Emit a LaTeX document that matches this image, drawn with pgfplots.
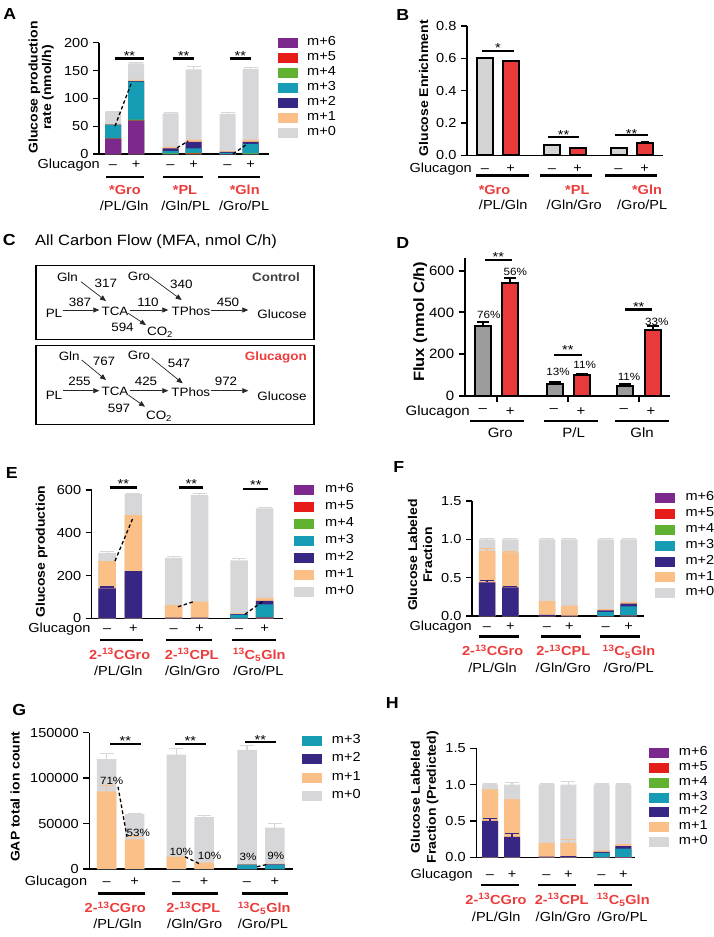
\documentclass[border=0pt]{standalone}
\usepackage{fontspec}
\setmainfont{Liberation Sans}[FakeStretch=1.11]
\usepackage{pgfplots}
\pgfplotsset{compat=1.18}
\usetikzlibrary{arrows.meta}

% isotopologue colours
\definecolor{mz}{RGB}{215,215,217}
\definecolor{mo}{RGB}{250,192,135}
\definecolor{mtw}{RGB}{55,38,132}
\definecolor{mth}{RGB}{22,156,180}
\definecolor{mfo}{RGB}{98,178,50}
\definecolor{mfi}{RGB}{230,28,24}
\definecolor{msi}{RGB}{124,40,140}
\definecolor{lred}{RGB}{236,60,60}
\definecolor{bred}{RGB}{232,58,58}
\definecolor{bgray}{RGB}{212,212,212}
\definecolor{dgray}{RGB}{155,155,158}

\newcommand\ftxt{\fontsize{13.1}{15}\selectfont}
\newcommand\fyl{\bfseries\fontsize{12.6}{13.5}\selectfont}
\newcommand\fdg{\fontsize{12.1}{14}\selectfont}
\newcommand\fpc{\fontsize{10.5}{12}\selectfont}

\pgfplotsset{
  gp/.style={scale only axis, anchor=south west, clip=false,
    axis lines*=left,
    axis line style={line width=1.3pt,-},
    every outer x axis line/.append style={-},
    every outer y axis line/.append style={-},
    tick align=outside, major tick length=6pt,
    xtick=\empty, ytick pos=left,
    tick style={line width=1.3pt, black},
    tick label style={font=\ftxt, inner sep=0pt},
    yticklabel style={xshift=-4.4pt},
    /pgf/number format/assume math mode=true,
    ymin=0},
  fx1/.style={yticklabel style={/pgf/number format/.cd, fixed, fixed zerofill, precision=1}},
  sb/.style={ybar, bar shift=0pt, draw=none, fill=#1},
  ob/.style={ybar, bar shift=0pt, draw=black, line width=2pt, fill=#1},
  eb/.style n args={3}{only marks, mark=text, text mark={}, forget plot,
    error bars/.cd, y dir=plus, y explicit,
    error bar style={line width=#3, #1},
    error mark options={rotate=90, mark size=#2, line width=#3, #1}},
  dsh/.style={black, line width=1.3pt, dash pattern=on 3.5pt off 2.5pt, forget plot},
}

\tikzset{
  t/.style={font=\ftxt, inner sep=0pt, text height=0.72em, text depth=0.21em},
  rb/.style={font=\bfseries\ftxt, text=lred, inner sep=0pt, text height=0.72em, text depth=0.21em},
  yl/.style={font=\fyl, rotate=90, align=center, inner sep=0pt},
  let/.style={font=\bfseries\fontsize{16}{16}\selectfont, inner sep=0pt},
  ul/.style={line width=2.6pt},
  sg/.style={font=\ftxt, inner sep=0pt},
  pc/.style={font=\fpc, inner sep=0pt},
  dgn/.style={font=\fdg, inner sep=0pt},
  ar/.style={-{Triangle[length=6pt,width=5pt]}, line width=0.7pt, draw=black!85},
}

% y, then the six bar centres
\newcommand\pmrow[7]{\node[t] at (#2,#1) {--}; \node[t] at (#3,#1) {+};
  \node[t] at (#4,#1) {--}; \node[t] at (#5,#1) {+};
  \node[t] at (#6,#1) {--}; \node[t] at (#7,#1) {+};}
\newcommand\uls[7]{\draw[ul] (#2,#1)--(#3,#1); \draw[ul] (#4,#1)--(#5,#1); \draw[ul] (#6,#1)--(#7,#1);}
% square left, first row y, row step, text x, list
\newcommand\legbox[5]{\foreach \c/\l [count=\i from 0] in {#5} {
  \fill[\c] (#1,{#2+#3*\i-5}) rectangle ++(20,10);
  \node[t,anchor=west] at (#4,{#2+#3*\i}) {\l};}}

\begin{document}
\begin{tikzpicture}
\path[use as bounding box] (0,0) rectangle (714pt,-937pt);

%% A
\begin{axis}[gp, at={(99pt,-154pt)}, width=170pt, height=111.3pt,
  xmin=99, xmax=269, ymax=200, ytick={0,50,100,150,200}, bar width=16]
\addplot[sb=mz]  coordinates {(113,76) (136,163) (170.5,73) (193.5,152) (227.5,72) (250.5,153)};
\addplot[sb=mo]  coordinates {(113,54) (136,133) (170.5,13) (193.5,26) (227.5,5) (250.5,26)};
\addplot[sb=mtw] coordinates {(113,53) (136,131) (170.5,10) (193.5,22) (227.5,4) (250.5,22)};
\addplot[sb=mth] coordinates {(113,52.5) (136,130) (170.5,5) (193.5,10) (227.5,2) (250.5,18)};
\addplot[sb=mfo] coordinates {(113,28.5) (136,62) (170.5,1) (193.5,2) (227.5,0) (250.5,1)};
\addplot[sb=mfi] coordinates {(113,27.5) (136,60) (170.5,0) (193.5,1) (227.5,0) (250.5,0)};
\addplot[sb=msi] coordinates {(113,27.5) (136,60) (170.5,0) (193.5,0) (227.5,0) (250.5,0)};
\addplot[eb={mz}{7pt}{1.2pt}] coordinates {(113,76) +- (0,1) (136,163) +- (0,1) (170.5,73) +- (0,2)
  (193.5,152) +- (0,5) (227.5,72) +- (0,2) (250.5,153) +- (0,3)};
\addplot[dsh] coordinates {(115,50) (131,126)};
\addplot[dsh] coordinates {(177,11) (188,23)};
\addplot[dsh] coordinates {(233,0) (248,19)};
\end{axis}

%% B
\begin{axis}[gp, fx1, at={(467pt,-155.3pt)}, width=196pt, height=129.3pt,
  xmin=467, xmax=663, ymax=0.8, ytick={0,0.2,0.4,0.6,0.8}, bar width=16]
\addplot[ob=bgray] coordinates {(485,0.600) (552,0.062) (618.5,0.043)};
\addplot[ob=bred]  coordinates {(510.5,0.585) (577.5,0.047) (644.5,0.078)};
\addplot[eb={black}{4pt}{1.2pt}] coordinates {(485,0.600) +- (0,0.004) (510.5,0.585) +- (0,0.003)
  (552,0.062) +- (0,0.004) (577.5,0.047) +- (0,0.003) (618.5,0.043) +- (0,0.003) (644.5,0.078) +- (0,0.004)};
\end{axis}

%% D
\begin{axis}[gp, at={(464.7pt,-395.7pt)}, width=205.6pt, height=137.5pt,
  xmin=464.7, xmax=670.3, ymax=660, ytick={0,200,400,600},
  xtick={496.5,568.1,639}, xticklabels={},
  axis line style={line width=2pt}, tick style={line width=2pt},
  tick label style={font=\fontsize{13.5}{15}\selectfont}, bar width=16]
\addplot[ob=dgray] coordinates {(482.8,336) (554.5,55) (625.3,45)};
\addplot[ob=bred]  coordinates {(510.2,542) (581.7,99) (652.7,314)};
\addplot[eb={black}{6pt}{2pt}] coordinates {(482.8,336) +- (0,19) (510.2,542) +- (0,21)
  (554.5,55) +- (0,12) (581.7,99) +- (0,6) (625.3,45) +- (0,13) (652.7,314) +- (0,22)};
\end{axis}

%% E
\begin{axis}[gp, at={(91.7pt,-618.3pt)}, width=191.6pt, height=128.3pt,
  xmin=91.7, xmax=283.3, ymax=600, ytick={0,200,400,600}, bar width=17.5]
\addplot[sb=mz]  coordinates {(107.2,306) (133.3,581) (173.7,283) (199.7,576) (239.2,271) (264.7,514)};
\addplot[sb=mo]  coordinates {(107.2,268) (133.3,483) (173.7,62) (199.7,78) (239.2,24) (264.7,96)};
\addplot[sb=mtw] coordinates {(107.2,140) (133.3,221) (173.7,3) (199.7,3) (239.2,19) (264.7,82)};
\addplot[sb=mth] coordinates {(107.2,0) (133.3,0) (173.7,0) (199.7,0) (239.2,17) (264.7,65)};
\addplot[sb=mfo] coordinates {(107.2,0) (133.3,0) (173.7,0) (199.7,0) (239.2,0) (264.7,3)};
\addplot[sb=mfi] coordinates {(107.2,0) (133.3,0) (173.7,0) (199.7,0) (239.2,0) (264.7,3)};
\addplot[sb=msi] coordinates {(107.2,0) (133.3,0) (173.7,0) (199.7,0) (239.2,0) (264.7,3)};
\addplot[eb={mz}{7pt}{1.2pt}] coordinates {(107.2,306) +- (0,6) (133.3,581) +- (0,4) (173.7,283) +- (0,5)
  (199.7,576) +- (0,8) (239.2,271) +- (0,9) (264.7,514) +- (0,5)};
\addplot[eb={mtw}{7pt}{1.2pt}] coordinates {(107.2,140) +- (0,6)};
\addplot[dsh] coordinates {(115,268) (133,470)};
\addplot[dsh] coordinates {(178,54) (195,80)};
\addplot[dsh] coordinates {(245,19) (263,80)};
\end{axis}

%% F
\begin{axis}[gp, fx1, at={(472pt,-616pt)}, width=172.3pt, height=115pt,
  xmin=472, xmax=644.3, ymax=1.5, ytick={0,0.5,1,1.5}, bar width=16.5]
\addplot[sb=mz]  coordinates {(487,1) (510.3,1) (547,1) (569.3,1) (605.7,1) (628.7,1)};
\addplot[sb=mo]  coordinates {(487,0.85) (510.3,0.83) (547,0.195) (569.3,0.135) (605.7,0.09) (628.7,0.185)};
\addplot[sb=mtw] coordinates {(487,0.44) (510.3,0.375) (547,0.015) (569.3,0.005) (605.7,0.075) (628.7,0.16)};
\addplot[sb=mth] coordinates {(487,0) (510.3,0) (547,0) (569.3,0) (605.7,0.055) (628.7,0.125)};
\addplot[sb=mfo] coordinates {(487,0) (510.3,0) (547,0) (569.3,0) (605.7,0) (628.7,0.006)};
\addplot[sb=mfi] coordinates {(487,0) (510.3,0) (547,0) (569.3,0) (605.7,0) (628.7,0.006)};
\addplot[sb=msi] coordinates {(487,0) (510.3,0) (547,0) (569.3,0) (605.7,0) (628.7,0.006)};
\addplot[eb={mz}{7pt}{1.2pt}] coordinates {(487,1) +- (0,0.01) (510.3,1) +- (0,0.01) (547,1) +- (0,0.01)
  (569.3,1) +- (0,0.01) (605.7,1) +- (0,0.01) (628.7,1) +- (0,0.01)};
\addplot[eb={mo}{7pt}{1.2pt}] coordinates {(487,0.85) +- (0,0.03) (510.3,0.83) +- (0,0.01)};
\addplot[eb={mtw}{7pt}{1.2pt}] coordinates {(487,0.44) +- (0,0.02) (510.3,0.375) +- (0,0.01)};
\end{axis}

%% G
\begin{axis}[gp, at={(89.3pt,-869pt)}, width=204pt, height=136.3pt,
  xmin=89.3, xmax=293.3, ymax=150000, ytick={0,50000,100000,150000},
  scaled y ticks=false, yticklabel style={/pgf/number format/.cd, fixed, 1000 sep={}}, bar width=19.5]
\addplot[sb=mz]  coordinates {(106.7,121000) (134.5,60500) (176.3,126000) (204.2,57000) (247,131000) (274.8,45500)};
\addplot[sb=mo]  coordinates {(106.7,85500) (134.5,32500) (176.3,13500) (204.2,7000) (247,5500) (274.8,5800)};
\addplot[sb=mtw] coordinates {(106.7,0) (134.5,0) (176.3,0) (204.2,0) (247,4800) (274.8,5000)};
\addplot[sb=mth] coordinates {(106.7,0) (134.5,0) (176.3,0) (204.2,0) (247,4500) (274.8,4500)};
\addplot[eb={mz}{7pt}{1.2pt}] coordinates {(106.7,121000) +- (0,6000) (134.5,60500) +- (0,1000)
  (176.3,126000) +- (0,6500) (204.2,57000) +- (0,1500) (247,131000) +- (0,4500) (274.8,45500) +- (0,5000)};
\addplot[eb={mo}{7pt}{1.2pt}] coordinates {(106.7,85500) +- (0,6500) (134.5,32500) +- (0,3500)};
\addplot[dsh] coordinates {(118,90500) (127,35500)};
\addplot[dsh] coordinates {(185,13500) (199,6000)};
\addplot[dsh] coordinates {(257,2500) (267,5000)};
\end{axis}

%% H
\begin{axis}[gp, fx1, at={(476.3pt,-857.3pt)}, width=159pt, height=109pt,
  xmin=476.3, xmax=635.3, ymax=1.5, ytick={0,0.5,1,1.5}, bar width=16]
\addplot[sb=mz]  coordinates {(490,1) (512,1) (546.5,1) (568.3,1) (601.5,1) (623.3,1)};
\addplot[sb=mo]  coordinates {(490,0.935) (512,0.78) (546.5,0.20) (568.3,0.20) (601.5,0.095) (623.3,0.18)};
\addplot[sb=mtw] coordinates {(490,0.50) (512,0.28) (546.5,0.01) (568.3,0.015) (601.5,0.075) (623.3,0.155)};
\addplot[sb=mth] coordinates {(490,0) (512,0) (546.5,0) (568.3,0) (601.5,0.06) (623.3,0.12)};
\addplot[sb=mfo] coordinates {(490,0) (512,0) (546.5,0) (568.3,0) (601.5,0) (623.3,0.004)};
\addplot[sb=mfi] coordinates {(490,0) (512,0) (546.5,0) (568.3,0) (601.5,0) (623.3,0.004)};
\addplot[sb=msi] coordinates {(490,0) (512,0) (546.5,0) (568.3,0) (601.5,0) (623.3,0.004)};
\addplot[eb={mz}{7pt}{1.2pt}] coordinates {(490,1) +- (0,0.01) (512,1) +- (0,0.035) (546.5,1) +- (0,0.01)
  (568.3,1) +- (0,0.04) (601.5,1) +- (0,0.01) (623.3,1) +- (0,0.01)};
\addplot[eb={mo}{7pt}{1.2pt}] coordinates {(512,0.78) +- (0,0.01) (568.3,0.20) +- (0,0.05)};
\addplot[eb={mtw}{7pt}{1.2pt}] coordinates {(490,0.50) +- (0,0.03) (512,0.28) +- (0,0.045)};
\end{axis}

\begin{scope}[x=1pt, y=-1pt]
%% panel letters
\node[let] at (9.7,14.2) {A};
\node[let] at (402.8,14.5) {B};
\node[let] at (9.2,240) {C};
\node[let] at (402.8,242.8) {D};
\node[let] at (11.7,473.3) {E};
\node[let] at (398.8,466.7) {F};
\node[let] at (19.2,710) {G};
\node[let] at (392.3,703.3) {H};

%% A annotations
\node[yl] at (41,87.5) {Glucose production\\rate (nmol/h)};
\legbox{278.3}{42.7}{15}{307}{msi/m+6,mfi/m+5,mfo/m+4,mth/m+3,mtw/m+2,mo/m+1,mz/m+0}
\node[t,anchor=east] at (100,166) {Glucagon};
\pmrow{166}{113}{136}{170.5}{193.5}{227.5}{250.5}
\uls{177}{106}{144}{163}{203}{218}{260}
\node[rb] at (125,192) {*Gro}; \node[t] at (124.2,208) {/PL/Gln};
\node[rb] at (185,192) {*PL};  \node[t] at (185.7,208) {/Gln/PL};
\node[rb] at (244.7,192) {*Gln}; \node[t] at (244.2,208) {/Gro/PL};
\draw[line width=2.6pt] (115,58.5)--(144,58.5); \node[sg] at (129.5,55.9) {**};
\draw[line width=2.6pt] (173.3,58.5)--(194,58.5); \node[sg] at (183.7,55.9) {**};
\draw[line width=2.6pt] (230,58.5)--(250.7,58.5); \node[sg] at (240.3,55.9) {**};

%% B annotations
\node[yl] at (423.7,88.3) {Glucose Enrichment};
\node[t,anchor=east] at (472,170) {Glucagon};
\pmrow{170}{485}{510.5}{552}{577.5}{618.5}{644.5}
\uls{175.7}{476}{528.7}{540}{592}{605}{657}
\node[rb] at (494.5,191.7) {*Gro}; \node[t] at (503.2,206.7) {/PL/Gln};
\node[rb] at (577.3,191.7) {*PL};  \node[t] at (574.2,206.7) {/Gln/Gro};
\node[rb] at (647,191.7) {*Gln};   \node[t] at (642.2,206.7) {/Gro/PL};
\draw[line width=1.7pt] (482,51)--(514,51); \node[sg] at (498,47.9) {*};
\draw[line width=1.7pt] (548,136.7)--(579,136.7); \node[sg] at (563.5,134.6) {**};
\draw[line width=1.7pt] (615,135)--(648,135); \node[sg] at (631.5,133.6) {**};

%% C diagram
\node[font=\fontsize{14.9}{16}\selectfont, anchor=west, inner sep=0pt] at (35,242) {All Carbon Flow (MFA, nmol C/h)};
\draw[line width=1.2pt] (36,265.7) rectangle (314,339.3);
\draw[line width=1.2pt] (36,345.7) rectangle (314,424.3);
\node[dgn] at (67.5,276.7) {Gln};
\node[dgn] at (105.8,283.3) {317};
\node[dgn] at (139,276.7) {Gro};
\node[dgn] at (181.3,284.3) {340};
\node[dgn, font=\bfseries\fdg, text=black!75] at (276,276.7) {Control};
\node[dgn] at (80,302.3) {387};
\node[dgn] at (148,302.3) {110};
\node[dgn] at (228,302.3) {450};
\node[dgn] at (54,313.3) {PL};
\node[dgn] at (115,311) {TCA};
\node[dgn] at (191,311) {TPhos};
\node[dgn] at (282,314.3) {Glucose};
\node[dgn] at (122.5,327.7) {594};
\node[dgn, anchor=base] at (160,335.5) {CO\textsubscript{2}};
\draw[ar] (62.7,310)--(99.3,310);
\draw[ar] (130,310)--(168.3,310);
\draw[ar] (210.7,310)--(248.3,310);
\draw[ar] (81,281.7)--(106,301);
\draw[ar] (150,276.7)--(181.7,300);
\draw[ar] (128.3,313.3)--(146,325);
\node[dgn] at (69.2,355.7) {Gln};
\node[dgn] at (104,361.7) {767};
\node[dgn] at (139,355.7) {Gro};
\node[dgn] at (179,363.3) {547};
\node[dgn, font=\bfseries\fdg, text=lred] at (275.8,357.3) {Glucagon};
\node[dgn] at (79.5,381.7) {255};
\node[dgn] at (146,381.7) {425};
\node[dgn] at (226,381.7) {972};
\node[dgn] at (54,395) {PL};
\node[dgn] at (115,391.3) {TCA};
\node[dgn] at (190.8,391.7) {TPhos};
\node[dgn] at (282,395.7) {Glucose};
\node[dgn] at (119,408.3) {597};
\node[dgn, anchor=base] at (159,419.5) {CO\textsubscript{2}};
\draw[ar] (62.7,390.7)--(99.3,390.7);
\draw[ar] (130,390.7)--(168.3,390.7);
\draw[ar] (210.7,390.7)--(248.3,390.7);
\draw[ar] (81.7,360)--(106,380);
\draw[ar] (151.7,358.3)--(182.7,383.3);
\draw[ar] (128.3,395)--(145,406.7);

%% D annotations
\node[yl, font=\bfseries\fontsize{14.9}{16}\selectfont] at (420.3,321.7) {Flux (nmol C/h)};
\node[t, font=\fontsize{13.5}{15}\selectfont, anchor=east] at (470,413.3) {Glucagon};
\foreach \x in {482.8,553.7,623.7} \node[t, font=\fontsize{13.5}{15}\selectfont] at (\x,410.3) {--};
\foreach \x in {510.2,581,651} \node[t, font=\fontsize{13.5}{15}\selectfont] at (\x,413.3) {+};
\uls{421}{470}{523.7}{544.3}{597.7}{615.3}{668.7}
\node[t, font=\fontsize{13.5}{15}\selectfont] at (500.3,435) {Gro};
\node[t, font=\fontsize{13.5}{15}\selectfont] at (573.7,435) {P/L};
\node[t, font=\fontsize{13.5}{15}\selectfont] at (642,435) {Gln};
\draw[line width=2.6pt] (484.7,260)--(512,260); \node[sg] at (498.3,257.4) {**};
\draw[line width=2.6pt] (553.7,355)--(582,355); \node[sg] at (567.8,350.2) {**};
\draw[line width=2.6pt] (625.3,309.3)--(652,309.3); \node[sg] at (638.7,307.1) {**};
\node[pc] at (488.7,315) {76\%};
\node[pc] at (515.3,271.7) {56\%};
\node[pc] at (558,371.7) {13\%};
\node[pc] at (584.7,365) {11\%};
\node[pc] at (629,376.7) {11\%};
\node[pc] at (656.8,321.7) {33\%};

%% E annotations
\node[yl] at (41.7,551.7) {Glucose production};
\legbox{294}{490}{16.95}{325}{msi/m+6,mfi/m+5,mfo/m+4,mth/m+3,mtw/m+2,mo/m+1,mz/m+0}
\node[t,anchor=east] at (90.7,630) {Glucagon};
\pmrow{630}{107.2}{133.3}{173.7}{199.7}{239.2}{264.7}
\uls{640}{100}{143.3}{165.7}{211.7}{231.7}{276}
\node[rb] at (119.7,656.7) {2-\textsuperscript{13}CGro}; \node[t] at (118.3,673.3) {/PL/Gln};
\node[rb] at (191.7,656.7) {2-\textsuperscript{13}CPL};  \node[t] at (192.5,673.3) {/Gln/Gro};
\node[rb] at (259.2,656.7) {\textsuperscript{13}C\textsubscript{5}Gln}; \node[t] at (258.3,673.3) {/Gro/PL};
\draw[line width=2.6pt] (110,487.3)--(136.7,487.3); \node[sg] at (123.3,483.7) {**};
\draw[line width=2.6pt] (179.3,487.3)--(203.3,487.3); \node[sg] at (191.3,483.7) {**};
\draw[line width=2.6pt] (243.3,489)--(268.3,489); \node[sg] at (255.8,484.9) {**};

%% F annotations
\node[yl, font=\bfseries\fontsize{12.6}{15}\selectfont] at (420,555) {Glucose Labeled\\Fraction};
\legbox{655.3}{498.3}{15.83}{685.3}{msi/m+6,mfi/m+5,mfo/m+4,mth/m+3,mtw/m+2,mo/m+1,mz/m+0}
\node[t,anchor=east] at (472,627.7) {Glucagon};
\pmrow{627.7}{487}{510.3}{547}{569.3}{605.7}{628.7}
\uls{636.7}{478.7}{518.7}{541}{581}{599.7}{640.3}
\node[rb] at (492.7,653.3) {2-\textsuperscript{13}CGro}; \node[t] at (492.5,670) {/PL/Gln};
\node[rb] at (563.3,653.3) {2-\textsuperscript{13}CPL};  \node[t] at (563.2,670) {/Gln/Gro};
\node[rb] at (629,653.3) {\textsuperscript{13}C\textsubscript{5}Gln}; \node[t] at (628.7,670) {/Gro/PL};

%% G annotations
\node[yl] at (15,796.7) {GAP total ion count};
\legbox{301.7}{740.7}{18.43}{331.7}{mth/m+3,mtw/m+2,mo/m+1,mz/m+0}
\node[t,anchor=east] at (87.3,882.7) {Glucagon};
\pmrow{882.7}{106.7}{134.5}{176.3}{204.2}{247}{274.8}
\uls{893.3}{98.3}{145}{171.7}{218.3}{241.7}{288.3}
\node[rb] at (115.3,910) {2-\textsuperscript{13}CGro}; \node[t] at (117.5,926) {/PL/Gln};
\node[rb] at (193.3,910) {2-\textsuperscript{13}CPL};  \node[t] at (194.7,926) {/Gln/Gro};
\node[rb] at (264.2,910) {\textsuperscript{13}C\textsubscript{5}Gln}; \node[t] at (263,926) {/Gro/PL};
\draw[line width=2.6pt] (110,744)--(140.7,744); \node[sg] at (125.3,740.6) {**};
\draw[line width=2.6pt] (175,744)--(205.7,744); \node[sg] at (190.3,740.6) {**};
\draw[line width=2.6pt] (245,742)--(275.7,742); \node[sg] at (260.3,739.6) {**};
\node[pc] at (111.7,780.7) {71\%};
\node[pc] at (138.3,833.3) {53\%};
\node[pc] at (181.3,851.7) {10\%};
\node[pc] at (209.5,856) {10\%};
\node[pc] at (248,856.7) {3\%};
\node[pc] at (275.8,856) {9\%};

%% H annotations
\node[yl, font=\bfseries\fontsize{12.6}{16}\selectfont] at (424.5,797.3) {Glucose Labeled\\Fraction (Predicted)};
\legbox{648.7}{753.3}{14.73}{678.7}{msi/m+6,mfi/m+5,mfo/m+4,mth/m+3,mtw/m+2,mo/m+1,mz/m+0}
\node[t,anchor=east] at (473,876) {Glucagon};
\pmrow{876}{490}{512}{546.5}{568.3}{601.5}{623.3}
\uls{885}{481}{519.3}{538}{576.3}{594.3}{632}
\node[rb] at (496,901.7) {2-\textsuperscript{13}CGro}; \node[t] at (496.2,919.3) {/PL/Gln};
\node[rb] at (561.7,901.7) {2-\textsuperscript{13}CPL};  \node[t] at (563.2,919.3) {/Gln/Gro};
\node[rb] at (623.3,901.7) {\textsuperscript{13}C\textsubscript{5}Gln}; \node[t] at (622.5,919.3) {/Gro/PL};
\end{scope}
\end{tikzpicture}
\end{document}
